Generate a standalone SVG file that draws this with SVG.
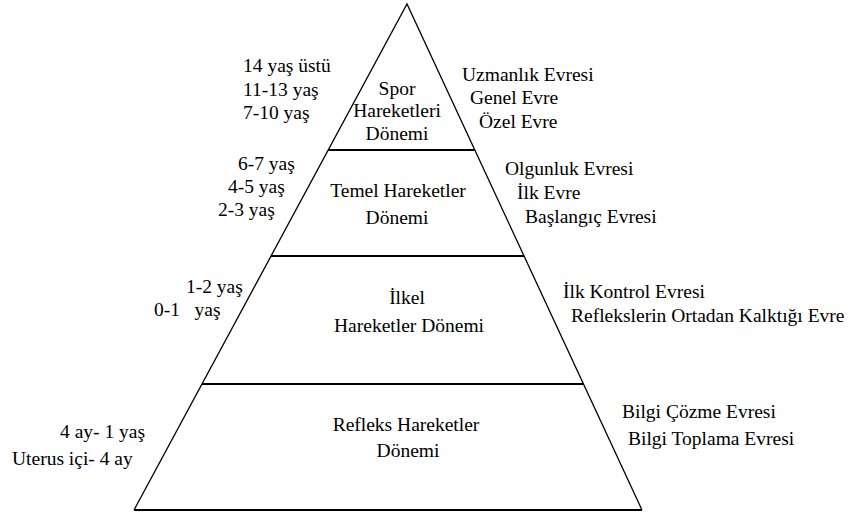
<svg xmlns="http://www.w3.org/2000/svg" width="849" height="515" viewBox="0 0 849 515">
<style>
text{font-family:"Liberation Serif","Times New Roman",serif;font-size:19.5px;fill:#000}
.c{text-anchor:middle}
.edge{fill:none;stroke:#000;stroke-width:1.3}
.div{stroke:#000;stroke-width:2}
</style>
<rect width="849" height="515" fill="#fff"/>
<g id="pyramid">
<path class="edge" d="M134,510 L407,4 L642,510"/>
<line class="div" x1="328" y1="150" x2="475" y2="150"/>
<line class="div" x1="271" y1="256" x2="524" y2="256"/>
<line class="div" x1="202" y1="384" x2="583" y2="384"/>
<line class="div" x1="134" y1="510" x2="642" y2="510"/>
</g>
<g id="tier-spor">
<text class="c" x="397" y="95">Spor</text>
<text class="c" x="397" y="117">Hareketleri</text>
<text class="c" x="397" y="140">Dönemi</text>
<text x="243" y="72">14 yaş üstü</text>
<text x="243" y="96">11-13 yaş</text>
<text x="243" y="119">7-10 yaş</text>
<text x="462" y="81">Uzmanlık Evresi</text>
<text x="470" y="104">Genel Evre</text>
<text x="479" y="128">Özel Evre</text>
</g>
<g id="tier-temel">
<text class="c" x="398" y="197">Temel Hareketler</text>
<text class="c" x="397" y="224">Dönemi</text>
<text x="238" y="170">6-7 yaş</text>
<text x="228" y="193">4-5 yaş</text>
<text x="218" y="216">2-3 yaş</text>
<text x="505" y="175">Olgunluk Evresi</text>
<text x="517" y="199">İlk Evre</text>
<text x="525" y="223">Başlangıç Evresi</text>
</g>
<g id="tier-ilkel">
<text class="c" x="407" y="304">İlkel</text>
<text class="c" x="409" y="332">Hareketler Dönemi</text>
<text x="186" y="293">1-2 yaş</text>
<text x="154" y="316" xml:space="preserve">0-1   yaş</text>
<text x="563" y="298">İlk Kontrol Evresi</text>
<text x="571" y="322">Reflekslerin Ortadan Kalktığı Evre</text>
</g>
<g id="tier-refleks">
<text class="c" x="406" y="431">Refleks Hareketler</text>
<text class="c" x="408" y="457">Dönemi</text>
<text x="60" y="438">4 ay- 1 yaş</text>
<text x="12" y="465">Uterus içi- 4 ay</text>
<text x="622" y="418">Bilgi Çözme Evresi</text>
<text x="628" y="445">Bilgi Toplama Evresi</text>
</g>
</svg>
